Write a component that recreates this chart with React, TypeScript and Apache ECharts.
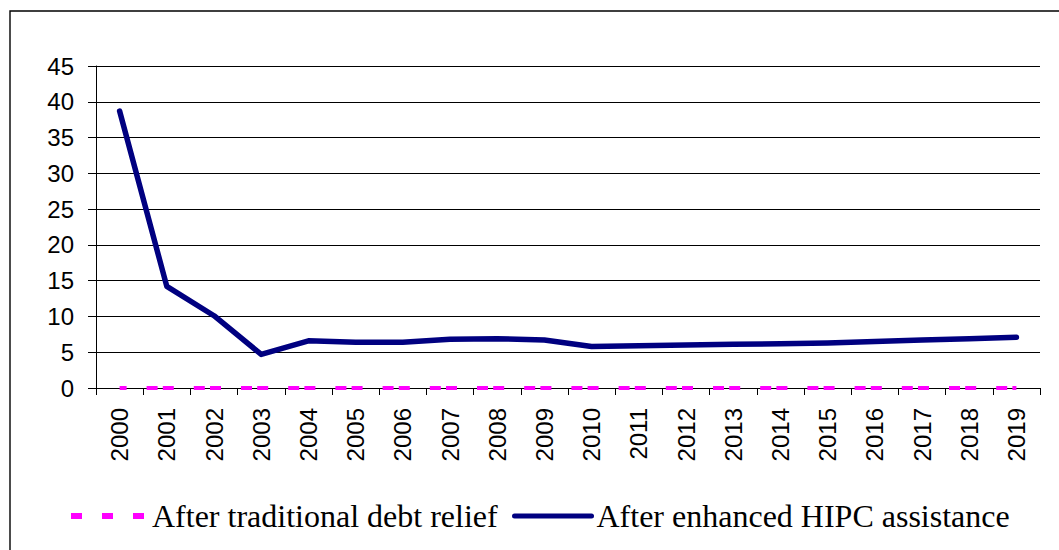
import React, { useEffect, useRef } from "react";
import * as echarts from "echarts";

// Years on the category axis
const years = [
  "2000", "2001", "2002", "2003", "2004", "2005", "2006", "2007", "2008", "2009",
  "2010", "2011", "2012", "2013", "2014", "2015", "2016", "2017", "2018", "2019",
];

// Series values
const traditionalRelief = [0, 0, 0, 0, 0, 0, 0, 0, 0, 0, 0, 0, 0, 0, 0, 0, 0, 0, 0, 0];
const enhancedHipc = [
  38.7, 14.2, 10.1, 4.7, 6.6, 6.4, 6.4, 6.8, 6.9, 6.7,
  5.8, 5.9, 6.0, 6.1, 6.2, 6.3, 6.5, 6.7, 6.9, 7.1,
];

// Value-axis range
const yMin = 0;
const yMax = 45;
const yStep = 5;

const seriesNames = ["After traditional debt relief", "After enhanced HIPC assistance"];

export default function App() {
  const ref = useRef<HTMLDivElement>(null);

  useEffect(() => {
    if (!ref.current) return;
    const chart = echarts.init(ref.current, null, { renderer: "svg" });
    const axisFont = { fontFamily: "'Liberation Sans', Arial, sans-serif", fontSize: 24, color: "#000" };
    const legendText = { fontFamily: "'Liberation Serif', 'Times New Roman', serif", fontSize: 32, color: "#000" };

    chart.setOption({
      animation: false,
      backgroundColor: "#fff",
      grid: { left: 96, right: 19, top: 66, bottom: 162, containLabel: false },
      xAxis: {
        type: "category",
        data: years,
        boundaryGap: true,
        axisLine: { show: true, lineStyle: { color: "#000", width: 1 } },
        axisTick: { show: true, interval: 0, length: 7, lineStyle: { color: "#000" } },
        axisLabel: { ...axisFont, interval: 0, rotate: 90, margin: 20 },
        splitLine: { show: false },
      },
      yAxis: {
        type: "value",
        min: yMin,
        max: yMax,
        interval: yStep,
        axisLine: { show: true, lineStyle: { color: "#000", width: 1 } },
        axisTick: { show: true, length: 8, lineStyle: { color: "#000" } },
        axisLabel: { ...axisFont, margin: 22 },
        splitLine: { show: true, lineStyle: { color: "#000", width: 1 } },
      },
      legend: [
        {
          left: 68,
          top: 500,
          padding: 0,
          itemWidth: 76,
          itemHeight: 14,
          textStyle: legendText,
          itemStyle: { opacity: 0 },
          data: [
            {
              name: seriesNames[0],
              itemStyle: { opacity: 0 },
              lineStyle: { type: [11, 20], dashOffset: 0, width: 6, cap: "butt" },
            },
          ],
        },
        {
          left: 512,
          top: 500,
          padding: 0,
          itemWidth: 77,
          itemHeight: 14,
          textStyle: legendText,
          itemStyle: { opacity: 0 },
          data: [
            {
              name: seriesNames[1],
              itemStyle: { opacity: 0 },
              lineStyle: { width: 5, cap: "round" },
            },
          ],
        },
      ],
      series: [
        {
          name: seriesNames[0],
          type: "line",
          data: traditionalRelief,
          symbol: "none",
          z: 3,
          itemStyle: { color: "#FF00FF" },
          lineStyle: { color: "#FF00FF", width: 4, type: [11, 20, 11, 5.2], dashOffset: 3.5, cap: "butt" },
        },
        {
          name: seriesNames[1],
          type: "line",
          data: enhancedHipc,
          symbol: "none",
          z: 4,
          itemStyle: { color: "#000080" },
          lineStyle: { color: "#000080", width: 5.5, cap: "round", join: "round" },
        },
      ],
      graphic: [
        {
          type: "rect",
          silent: true,
          z: -10,
          shape: { x: 10, y: 11, width: 1070, height: 600 },
          style: { fill: "none", stroke: "#000", lineWidth: 1.4 },
        },
      ],
    });

    return () => chart.dispose();
  }, []);

  return (
    <div
      ref={ref}
      style={{ position: "fixed", left: 0, top: 0, width: 1059, height: 550 }}
    />
  );
}
